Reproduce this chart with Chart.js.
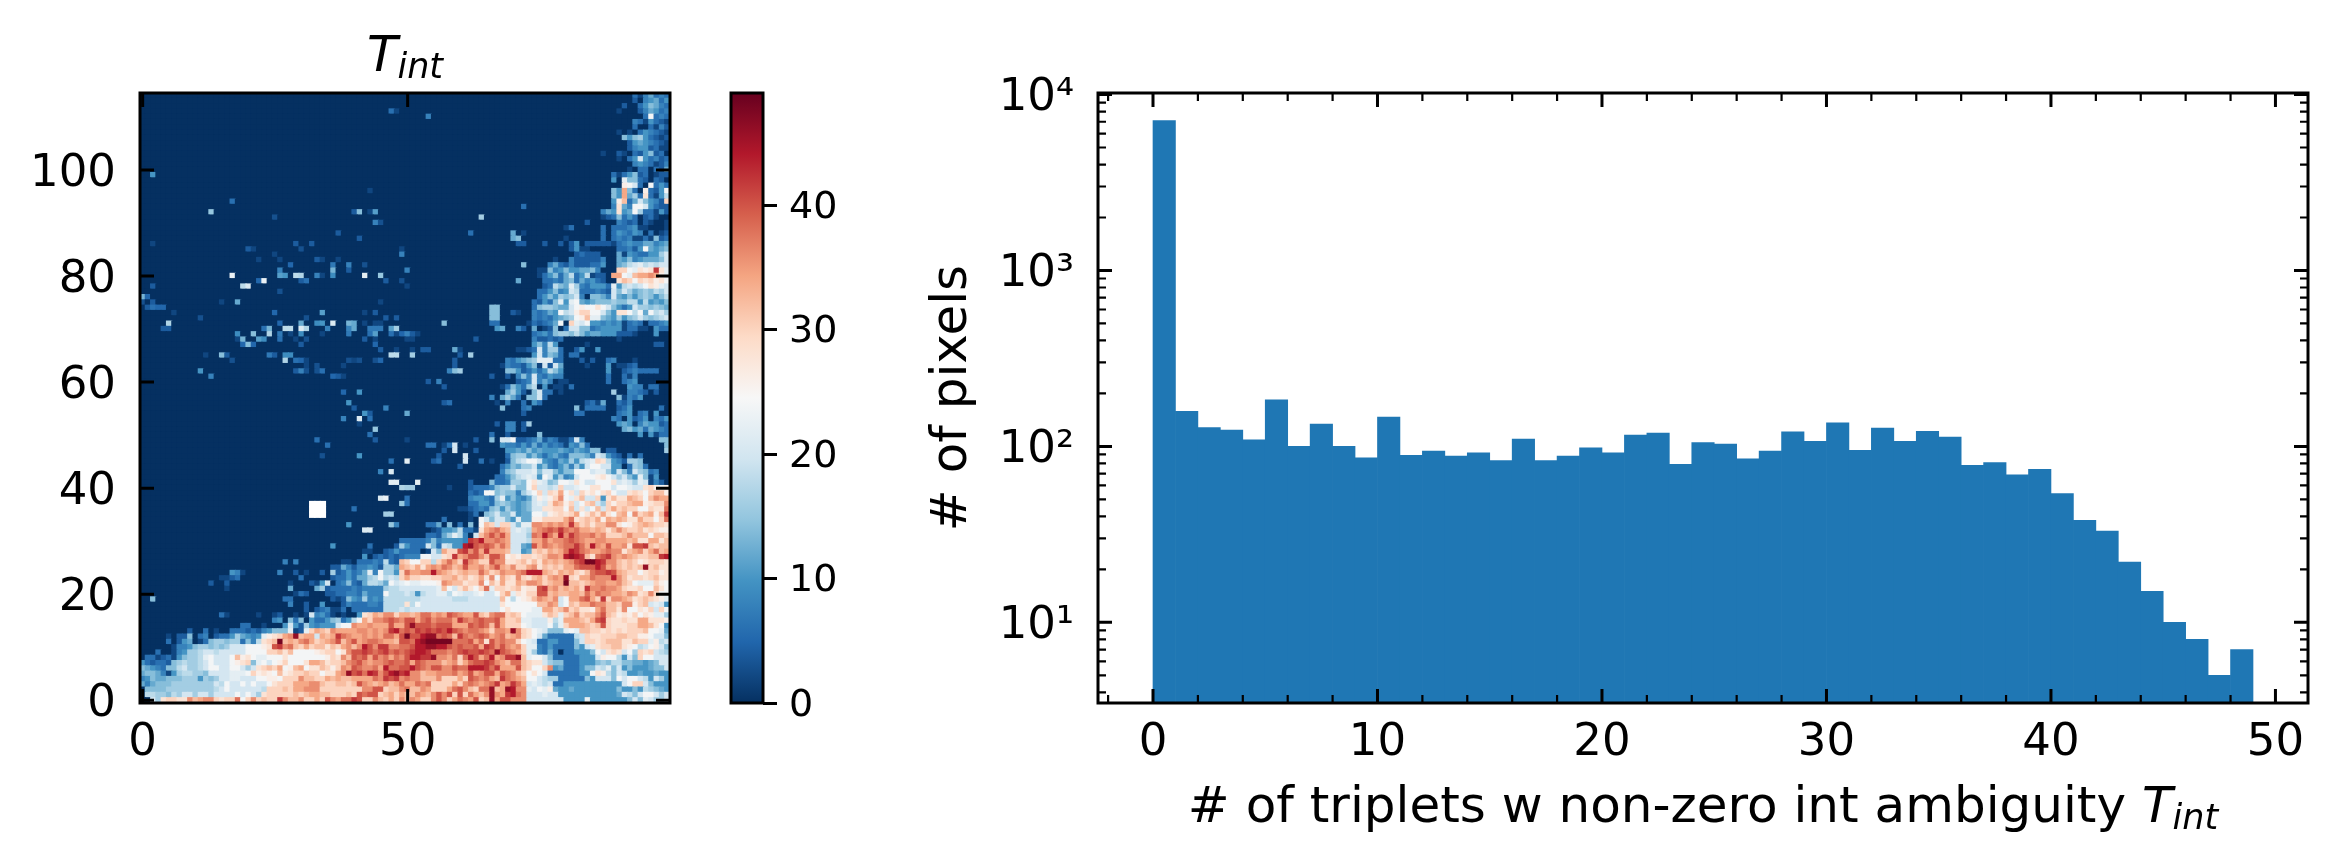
<!DOCTYPE html>
<html>
<head>
<meta charset="utf-8">
<title>T_int</title>
<script src="https://cdn.jsdelivr.net/npm/chart.js@4/dist/chart.umd.min.js"></script>
<style>
  body { margin: 0; background: #fff; }
  #page { position: relative; width: 2336px; height: 864px; overflow: hidden; font-family: 'DejaVu Sans', sans-serif; color: #000; }
  canvas { position: absolute; top: 0; }
  .label { position: absolute; font-size: 50px; line-height: 60px; white-space: pre; text-align: center; }
  .label i { font-style: italic; }
  .label sub { font-size: 70%; line-height: 0; vertical-align: -0.2em; font-style: italic; }
</style>
</head>
<body>
<div id="page">
  <canvas id="heatChart" style="left:0" width="700" height="864"></canvas>
  <canvas id="barChart" style="left:700px" width="200" height="864"></canvas>
  <canvas id="histChart" style="left:900px" width="1436" height="864"></canvas>
  <div class="label" style="left:140px;width:530px;top:24px"><i>T<sub>int</sub></i></div>
  <div class="label" style="left:1098px;width:1210px;top:775px"># of triplets w non-zero int ambiguity <i>T<sub>int</sub></i></div>
</div>
<script>
// Histogram
const histBins = [7100,158,128,124,109,184,100,134,100,86,147,89,94,88,92,83,110,83,88,98,92,116,119,79,105,
  103,85,94,121,107,136,95,127,107,122,113,78,81,69,74,54,38,33,22,15,10,8,5,7];
const histXMajor = [0,10,20,30,40,50];
const histXMinor = [-2,2,4,6,8,12,14,16,18,22,24,26,28,32,34,36,38,42,44,46,48];
const histYMajor = [10,100,1000,10000];
const histYMinor = [4,5,6,7,8,9,20,30,40,50,60,70,80,90,200,300,400,500,600,700,800,900,2000,3000,4000,5000,6000,7000,8000,9000];
const histYLabels = {10:'10\u00B9',100:'10\u00B2',1000:'10\u00B3',10000:'10\u2074'};

// Heatmap ticks
const heatXTicks = [0,50];
const heatYTicks = [0,20,40,60,80,100];
const barTicks = [0,10,20,30,40];

// RdBu_r
const colormap = ['#053061','#2166ac','#4393c3','#92c5de','#d1e5f0','#f7f7f7','#fddbc7','#f4a582','#d6604d','#b2182b','#67001f'];
const heatMax = 49;

// Heatmap cells. One char per cell, value = base36 * 2, '.' = 0
// sparse cells, left half, rows above 30: [col, row, value]
const heatSpecks = [
  [47,111,6],[48,111,2],[43,96,2],[2,99,10],[17,94,6],[13,92,15],[25,91,3],[40,92,4],[41,92,14],[43,92,2],[44,92,11],
  [44,90,8],[45,90,3],[37,88,4],[41,87,4],[2,86,2],[29,86,4],[32,86,4],[30,85,3],[20,85,4],[21,85,2],[49,85,2],[49,84,8],
  [25,84,2],[22,83,2],[26,83,2],[33,83,4],[34,83,2],[37,83,2],[28,82,5],[36,82,7],[39,82,8],[42,82,3],[26,81,8],[36,81,13],[39,81,4],
  [17,80,23],[26,80,11],[27,80,10],[29,80,18],[30,80,17],[33,80,8],[34,80,2],[36,80,9],[42,80,22],[45,80,15],
  [22,79,5],[23,79,23],[30,79,4],[31,79,6],[46,79,4],[49,79,3],[2,78,4],[19,78,18],[20,78,21],[26,77,3],[0,76,13],[1,76,5],
  [0,75,3],[2,75,4],[15,75,2],[18,75,12],[45,75,2],[1,74,4],[2,74,6],[3,74,5],[4,74,5],[6,73,2],[25,73,5],[34,73,11],[42,73,2],[44,73,4],
  [11,72,3],[31,72,3],[46,72,4],[48,72,4],[5,71,17],[26,71,5],[30,71,12],[33,71,9],[34,71,10],[36,71,21],[39,71,13],[40,71,12],[42,71,2],[44,71,2],[45,71,2],
  [4,70,4],[5,70,4],[23,70,6],[24,70,13],[27,70,18],[28,70,18],[30,70,21],[31,70,17],[35,70,8],[39,70,8],[40,70,12],[43,70,7],[44,70,7],[45,70,7],[47,70,11],[48,70,16],
  [18,69,9],[21,69,14],[24,69,17],[26,69,7],[28,69,2],[30,69,9],[34,69,2],[39,69,7],[43,69,6],[44,69,11],[47,69,6],[48,69,2],[49,69,5],
  [18,68,2],[19,68,13],[22,68,11],[23,68,9],[26,68,6],[29,68,2],[31,68,3],[42,68,4],[44,68,2],[19,67,5],[20,67,14],[21,67,5],[30,67,4],[44,67,5],
  [45,66,4],[48,66,2],[12,65,2],[15,65,14],[16,65,4],[24,65,7],[25,65,4],[27,65,9],[28,65,9],[47,65,18],[48,65,18],
  [17,64,3],[27,64,17],[29,64,6],[30,64,5],[31,64,2],[39,64,3],[40,64,2],[41,64,3],[44,64,3],[45,64,5],[31,63,2],[33,63,3],[38,63,2],
  [11,62,10],[29,62,4],[30,62,8],[31,62,3],[33,62,3],[34,62,6],[13,61,8],[36,61,5],[37,61,4],[38,61,2],[38,58,5],[41,58,10],
  [39,56,10],[40,55,4],[46,55,8],[42,54,10],[43,54,4],[38,53,8],[41,53,21],[43,53,6],[41,52,2],[44,51,15],[43,50,6],[33,49,6],[44,49,4],[35,48,6],
  [34,46,3],[41,46,10],[47,45,6],[45,43,8],[47,43,21],[47,41,22],[48,41,22],[49,40,17],[45,38,21],[46,38,23],[49,37,15],[40,36,6],[46,35,16],[47,35,16],
  [39,33,10],[47,33,15],[48,33,8],[42,32,21],[43,32,21]
];
// masked cells
const heatMissing = [[32,35],[33,35],[34,35],[32,36],[33,36],[34,36],[32,37],[33,37],[34,37]];

// right half (cols 50-99), rows 114 down to 17
const heatUpperRight = [
  '.......... .......... .......... .......... ...3146343',
  '.......... .......... .......... .......... ...2.45635',
  '.......... .......... .......... .......... .2..357643',
  '.......... .......... .......... .......... 1...246534',
  '....4..... .......... .......... .......... .....3c343',
  '.......... .......... .......... .......... ...4315321',
  '.......... .......... .......... .......... ...3..3142',
  '.......... .......... .......... .......... 1.1.354321',
  '.......... .......... .......... .......... .757853212',
  '.......... .......... .......... .......... ..25654321',
  '.......... .......... .......... .......... ..24552311',
  '.......... .......... .......... .......1.. 21.325723.',
  '.......... .......... .......... .......... 1.35a53423',
  '.......... .......... .......... .......... ...4543124',
  '.......... .......... .......... .......... ..1.33.326',
  '.......... .......... .......... .........3 135723.122',
  '.......... .......... .......... .........5 .b7732.32.',
  '.......... .......... .......... .......... .dca3.c353',
  '.......... .......... .......... .........7 5h73.d325c',
  '.......... .......... .......... .........7 5h683e3159',
  '.......... .......... .......... .........5 dg36a7542f',
  '.......... .......... ..3....... .........4 e64cca5322',
  '.......... .......... .......... .......465 e56c833152',
  '.......... ....8..... .......... .......123 7353.231..',
  '.......... .......... .......... ....2..... 4323.21..1',
  '.......... .......... .......... 13.....3.3 334511...1',
  '.......... ..3....... 6.1....... .......3.3 54354.3.12',
  '.......... .......... 67........ 1......3.3 4341131723',
  '.......... .......... .22...2..2 .25.222221 3454466456',
  '.......... .......... .......... .2511..... 33425c6567',
  '.......... .......... .......... ..23222... 615433558a',
  '.......... .......... ........1. .4222224.. 657456667a',
  '.......... .......... ..7....463 24222335.. 679ab9a9aa',
  '4......... .......... .....11745 7556674... ffcbedeleb',
  '.......... .......... .....13573 69359122.h hcbghhihdb',
  '.......... .......... .6....3343 67364532.. egfcfefdec',
  '1......... .......... ......2397 6b8435553b 59a9acedba',
  '.......... .......... .....33574 5a9333432a 7a8678798a',
  '.......... .......... .....35758 78a4.7764a 6575787579',
  '.......... .......... ....32537b 5bc6567778 7799595657',
  '.......... ......77.. ....378876 6acdcceca7 535a887876',
  '.......... ......77.. 21..43465c 9adffcca75 eec9c6c9a8',
  '.......... ......77.. ....434356 78cdgbb765 8578a8789a',
  '.......7.. ......33.. ...132346c .fbac55454 51343.3345',
  '.......... .......56. .42.6.127. 3aa7734555 513311.533',
  '421....... .......... ....345378 8797566555 2221...5..',
  '11........ ...2...... ....422323 .......... 1.........',
  '.......... .......... ....57495. ....1..... .......22.',
  '.1.22....6 1......... .1123a4883 ..25..5... ..........',
  '.8........ 2.8....... ....5a4763 .33....... ..........',
  '.........2 .........4 35678bbb33 ...2.2..34 ...1......',
  '.........2 ........14 332571a2a6 ....1...5. 1123......',
  '........47 8........7 7523535975 ........5. .2343333..',
  '.......... ......2..2 .474a43544 ........3. .314......',
  '....2.4... .......... .234a464.1 1.......3. .345......',
  '.......2.. ........13 75379.5.11 .3........ ..544.33..',
  '.......... .........6 852.7a33.1 .........8 ..4432.2..',
  '.......... ......4.68 63.77a3... .......... 71435.....',
  '.......23. .......1.4 ..3.53.... ....2316.. 324.......',
  '.......... ........7. ..34...... ..7.3333.. 235.....3.',
  '6......... .......... ..2....... ..33...... 345.34.5..',
  '.......... .......... .......... .........4 3.5235.435',
  '.......... .......2.4 4.28...... .......... 565.465523',
  '.......... .........4 4.2....... .......... .675636543',
  '.......... ......3..2 .....7.... .......... ....5.5133',
  '1......... ...2..7.aa c223462431 13a4...... ........77',
  '....33.13a .1......54 4353635343 15473..... .........7',
  '.......2.a ...2.....5 5657565556 5465477.22 .........8',
  '......2... .a.......3 7885753564 377764a953 2.3.3.....',
  'b....23... .a..3.1..2 79acca5436 5859abfe95 42887.....',
  '.......... 2.......35 7688a57435 7485accaa5 5.3873....',
  '.......... ........47 8aaab7aa75 77cccabb85 a74a8734..',
  '.......... .......335 79aba5ca58 45acccdeca 8a75b715..',
  '..b....... ..2...7334 887ceba78c cbecaaccce aba8ba142.',
  '88......1. ..23334788 a77cfaa9af aabcceecca ccbaaefdcd',
  '.......... ..323cc787 748acfafeh ceafdecefc aaefecfggd',
  '3......... ..455438b5 7546adbdfi cbegaaf5eg eehgfcgihh',
  '3......... ..33553787 6567abaehg dfacfga8fd ffghhdeffi',
  '.......... 1123437858 6567aaeeff cgaeacgafh fgffccfeej',
  '.......... ..13.78a77 a566ccadef efhcegehec ghcifghdgl',
  '.......3.. ..1.ca7aa7 5b66ddffff hjefgfhdhg hgeehffcfj',
  '....336.7. 3.7.cgfaff a7bbiihihi hlhfgeggii ecdfghgffe',
  '.....12556 9331ehijhg aba9hijkjl jijhhghgeg igffgefedd',
  '....33268b 94.agikikh aaa8jimjhm iljiijhiff fgigggcggf',
  '3333474555 54lkmiijih aaa9hhjhii jkjihhiihh hhgheehheg',
  '5333a73a95 5mnkjkjhjh aa65khjihi jjljhmihkh hiekklgfgg',
  '333.1a7hff klikhlhhhg aa56fgfhgh jmljihhiji ieghifhjgh',
  '444ccaaefl hikkigkkid edffefgiih mnmlgejkli hihgffgglm',
  'fccff9fhjh flihffkiie efgegehghg hikloomlii gfgfdefffe',
  'gfhehihjig hkhhigikhg iffhiegfgf hhjkkkmkhi gfgfgnfgee',
  'jhhiimihgf ghggjhfgih hijmmmhgfh ghfegjkklk hgffceffde',
  'hffeeffggh fgefheichf eifeghfhih nfehhjiiim igeffefgee',
  'cbbcccdihg gefficgehe ehgiihfghh oggfghiihh igfcbbbfdc',
  'aaaaaabgca egecfjbffe fgdeeklhig hghfliijii hfeefccgec',
  'a959aabb9c baabcaacfh bedffkkghg ghhgjhjiih hgihefifcc',
  '999aaaaaa9 99aaaaaagc 9cdegihgia chhjkhflfi ihgefgfedb',
  'e9caaaaaaa aaaaaaaaec cccccggiha cgfhhjiigg fiidfgaba5',
  '9aaaaaaaaa aaaaaaaace ccccbbhhfg ifgeedhjgg eiccedfafc'
];

// left half (cols 0-49), rows 30 down to 17
const heatMidLeft = [
  '.......... .......... .......... .......... .........3',
  '.......... .......... .......... ......5... ...3....28',
  '.......... .......... .......... .......... ..11..2353',
  '.......... .......... .......... .......... ..5.232323',
  '.......... .......... .......4.4 ........11 .33343932g',
  '.......... .......... .......... ......2264 244542886h',
  '.......... .......541 ......4..2 .1..2.8235 346b4c885f',
  '.......... .....1123. .......... 3.....2335 36689c9a9f',
  '.......... ...2..2... ........1. ..215a.347 3269986cab',
  '.......... ......1... ........6. ...6823333 434444899a',
  '.......... .......... .........1 32...22334 436444c999',
  '..7....... .......... .......33. ......2127 5484549999',
  '.......... .......... ........4. .2..5...24 3334439999',
  '.......... .......... .......... .2.234113. 333333999a'
];

// all cols, rows 16 down to 0
const heatLower = [
  '.......... .....31... ..1..12..1 .1a4531.1. .5efhgiifh hghjjhihkj ihhkgfijjf gfcbbbegfb fgifggikgf dedfcedbb8',
  '.......... .......... .....45.73 7.53357835 9chfiijkji kkhjkijjjh ljijkjjkhf fgbbaaad9b hhhgfhklfe efeehheeed',
  '.......... .........3 3..1...5a5 2854555acc ihhihhhkhh knkkkjkkkh hhkjkjgkhf ffcbaaac8b fhhhgfgkfe eeffhhgec5',
  '.........2 ..3.1..333 23245777b1 2bfhgfihhh hiihihilmj kjlklklkmk jijjihfiih nifecba777 bcbggffefe fefffgccb6',
  '.....1.227 .34.233586 545bdefhin ghhahghlji hhihihjjhk okkmnnjkjg ljijkjhijg hifeca6333 339afeefff ggffddcaa7',
  '.....3.256 .137887883 749efgoghg ijhfghikgi khijjihhgk kjmnoooooj jjkhjekiji ifcba33553 337affefgg geegffbd9a',
  '......1445 7887878aaa cccdeklijg fhfggegfhi gimkilliij jkmmnnmmkj kjjkhlkiki hifbb43533 3375abeffg gedc9acda7',
  '...3..1458 89aa9aaaaa ccccffgegc cccdeffcei kklkjkljkj klmmljjjij klkklkjnkj ihfb84363. 335557caef eac8fefa98',
  '.331231578 89bcaaacgd ecbbcccecc cccccdfeig kjkhkijhji kmmllniihj fjmkhjmhil lngbcca733 333555adcc 95a7fccaaa',
  '5323327898 89acaaacde f7bcacdfcc cehhgeffgi jkihiijkjj khkjiiighi fhjkklkihg jjgfeea877 3335557879 97766567aa',
  '76543779a8 89accaacca 8aefgfhcdg hceegfdfih kjiijhmjjk kmkjikkiik jjmmmljlhh hkgfccfi56 333577a9b7 a57555677a',
  '6776415899 887aaaabbb cfdedcgdef fgffceehin kljmlikmnl miighhiiij hikhikkhkj igfceca333 33355ced97 a955655655',
  '4576677788 85878aabba aaccddcfff iggffhghgg hhhhjilkli jiigggifff hfkjijhglj ihgcca9883 333375aaa7 cacca95a85',
  '6467778888 8888a9caac acaacefffh hhiigffggf gkihghighj hhjijffffh fijihijlhi ljhaba9a33 5555555555 5acffa7555',
  '.777788888 88889acaaa aaa9fffgfh hiiiffffff ffiikkfggi jggihfffhj kigfjjnghn miibacbd65 5655555555 7557598765',
  '.9988798aa 8aa8aaaaca ca8efffffg fghhggfffg fkjkkfghfh ggihgikikf kfjhginihl mjiaaabaa5 5555555555 6a97acca8a',
  '..a8effeei ghiifeffjc fifgffligg iffhfkihjj lkffigfhfi gihffikifh jihkfgnhkk iiiaaaaaaa 5555b55555 557a7ba88a'
];

function hexToRgb(hex) {
  return [1,3,5].map(i => parseInt(hex.substr(i,2),16));
}

function valueColor(v) {
  const t = Math.min(v/heatMax,1)*(colormap.length-1);
  const i = Math.min(Math.floor(t),colormap.length-2);
  const a = hexToRgb(colormap[i]), b = hexToRgb(colormap[i+1]);
  const f = t-i;
  return `rgb(${a.map((c,k) => Math.round(c+(b[k]-c)*f)).join(',')})`;
}

function decodeCell(c) {
  return c === '.' ? 0 : parseInt(c,36)*2;
}

// build 115 x 100 grid
const grid = [];
for (let r = 0; r < 115; r++) grid.push(new Array(100).fill(0));

function putRow(row, startCol, text) {
  const s = text.replace(/ /g,'');
  for (let i = 0; i < s.length; i++) grid[row][startCol+i] = decodeCell(s[i]);
}
heatUpperRight.forEach((s,i) => putRow(114-i,50,s));
heatMidLeft.forEach((s,i) => putRow(30-i,0,s));
heatLower.forEach((s,i) => putRow(16-i,0,s));
heatSpecks.forEach(([c,r,v]) => { grid[r][c] = v; });

const heatPoints = [];
const heatColors = [];
for (let r = 114; r >= 0; r--) {
  for (let c = 0; c < 100; c++) {
    heatPoints.push({x:c,y:r});
    heatColors.push(valueColor(grid[r][c]));
  }
}
heatMissing.forEach(([c,r]) => {
  heatPoints.push({x:c,y:r});
  heatColors.push('#ffffff');
});

// Box and inward ticks on all four sides
const framePlugin = {
  id: 'frame',
  afterDatasetsDraw(chart, args, opts) {
    const {ctx, chartArea:a, scales} = chart;
    ctx.save();
    ctx.strokeStyle = '#000';
    const tick = (axis, list, len, width) => {
      ctx.lineWidth = width;
      ctx.beginPath();
      list.forEach(v => {
        const p = scales[axis].getPixelForValue(v);
        if (axis === 'x') {
          ctx.moveTo(p,a.bottom); ctx.lineTo(p,a.bottom-len);
          ctx.moveTo(p,a.top); ctx.lineTo(p,a.top+len);
        } else {
          ctx.moveTo(a.left,p); ctx.lineTo(a.left+len,p);
          ctx.moveTo(a.right,p); ctx.lineTo(a.right-len,p);
        }
      });
      ctx.stroke();
    };
    tick('x',opts.xMajor||[],14,3);
    tick('y',opts.yMajor||[],14,3);
    tick('x',opts.xMinor||[],8,2.2);
    tick('y',opts.yMinor||[],8,2.2);
    ctx.lineWidth = 3;
    ctx.strokeRect(a.left,a.top,a.right-a.left,a.bottom-a.top);
    ctx.restore();
  }
};

const labelFont = {family:"'DejaVu Sans'", size:45};
const hidden = {legend:{display:false}, tooltip:{enabled:false}, title:{display:false}};
const setTicks = list => scale => { scale.ticks = list.map(value => ({value})); };

// Heatmap
new Chart(document.getElementById('heatChart'), {
  type: 'scatter',
  data: {datasets:[{
    data: heatPoints,
    pointStyle: 'rect',
    pointRadius: 4.55,
    pointBorderWidth: 0,
    pointBackgroundColor: heatColors
  }]},
  plugins: [framePlugin],
  options: {
    responsive: false,
    animation: false,
    events: [],
    layout: {padding:{top:93,right:30}},
    plugins: {...hidden, frame:{xMajor:heatXTicks, yMajor:heatYTicks}},
    scales: {
      x: {
        type:'linear', min:-0.5, max:99.5,
        grid:{display:false}, border:{display:false},
        afterBuildTicks: setTicks(heatXTicks),
        afterFit: s => { s.height = 161; },
        ticks:{font:labelFont, color:'#000', padding:5, maxRotation:0, autoSkip:false}
      },
      y: {
        type:'linear', min:-0.5, max:114.5,
        grid:{display:false}, border:{display:false},
        afterBuildTicks: setTicks(heatYTicks),
        afterFit: s => { s.width = 140; },
        ticks:{font:labelFont, color:'#000', padding:16, labelOffset:4, autoSkip:false}
      }
    }
  }
});

// Colorbar
new Chart(document.getElementById('barChart'), {
  type: 'bar',
  data: {labels:[''], datasets:[{
    data: [[0,heatMax]],
    barPercentage: 1,
    categoryPercentage: 1,
    backgroundColor: c => {
      const area = c.chart.chartArea;
      if (!area) return colormap[0];
      const g = c.chart.ctx.createLinearGradient(0,area.bottom,0,area.top);
      colormap.forEach((col,i) => g.addColorStop(i/(colormap.length-1),col));
      return g;
    }
  }]},
  plugins: [framePlugin],
  options: {
    responsive: false,
    animation: false,
    events: [],
    layout: {padding:{top:93,left:31}},
    plugins: {...hidden, frame:{}},
    scales: {
      x: {display:false, afterFit: s => { s.height = 161; }},
      y: {
        position:'right', min:0, max:heatMax,
        border:{display:false},
        grid:{drawOnChartArea:false, tickLength:14, tickWidth:3, color:'#000'},
        afterBuildTicks: setTicks(barTicks),
        afterFit: s => { s.width = 137; },
        ticks:{font:{family:"'DejaVu Sans'", size:38}, color:'#000', padding:12, labelOffset:3, autoSkip:false}
      }
    }
  }
});

// Histogram
new Chart(document.getElementById('histChart'), {
  type: 'bar',
  data: {datasets:[{
    data: histBins.map((v,i) => ({x:i+0.5,y:v})),
    backgroundColor: '#1f77b4',
    barPercentage: 1,
    categoryPercentage: 1
  }]},
  plugins: [framePlugin],
  options: {
    responsive: false,
    animation: false,
    events: [],
    layout: {padding:{top:93,right:28}},
    plugins: {...hidden, frame:{xMajor:histXMajor, xMinor:histXMinor, yMajor:histYMajor, yMinor:histYMinor}},
    scales: {
      x: {
        type:'linear', min:-2.45, max:51.45, offset:false,
        grid:{display:false}, border:{display:false},
        afterBuildTicks: setTicks(histXMajor),
        afterFit: s => { s.height = 161; },
        ticks:{font:labelFont, color:'#000', padding:5, maxRotation:0, autoSkip:false}
      },
      y: {
        type:'logarithmic', min:3.48, max:10200,
        grid:{display:false}, border:{display:false},
        afterBuildTicks: setTicks(histYMajor),
        afterFit: s => { s.width = 198; },
        title:{display:true, text:'# of pixels', font:{family:"'DejaVu Sans'", size:50}, color:'#000', padding:{top:23,bottom:0}},
        ticks:{font:labelFont, color:'#000', padding:16, labelOffset:4, autoSkip:false, callback:v => histYLabels[v]}
      }
    }
  }
});
</script>
</body>
</html>
